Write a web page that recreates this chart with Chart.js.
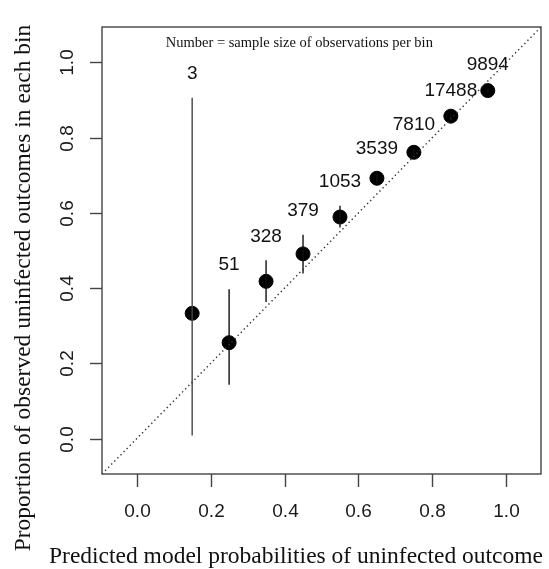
<!DOCTYPE html>
<html>
<head>
<meta charset="utf-8">
<script src="https://cdn.jsdelivr.net/npm/chart.js@4/dist/chart.umd.min.js"></script>
<style>
  body { margin: 0; background: #fff; }
  canvas { display: block; }
</style>
</head>
<body>
<canvas id="calib" width="549" height="569"></canvas>
<script>
// bin midpoints and observed proportions, with the 95% interval ends
const binMid = [0.15, 0.25, 0.35, 0.45, 0.55, 0.65, 0.75, 0.85, 0.95];
const observed = [0.333, 0.255, 0.418, 0.491, 0.589, 0.692, 0.761, 0.857, 0.925];
const lower = [0.008, 0.143, 0.363, 0.439, 0.561, 0.676, 0.751, 0.852, 0.920];
const upper = [0.906, 0.397, 0.474, 0.542, 0.619, 0.707, 0.771, 0.862, 0.930];
const sampleSize = ['3', '51', '328', '379', '1053', '3539', '7810', '17488', '9894'];

const axisRange = [-0.094, 1.094];
const tickValues = [0, 0.2, 0.4, 0.6, 0.8, 1.0];
const noteText = 'Number = sample size of observations per bin';
const notePos = [0.44, 1.05];
const xTitle = 'Predicted model probabilities of uninfected outcome';
const yTitle = 'Proportion of observed uninfected outcomes in each bin';

const sans = '"Liberation Sans", Arial, sans-serif';
const serif = '"Liberation Serif", "Times New Roman", serif';

let datasets = [];

// dotted reference line y = x
datasets.push({
    type: 'line',
    data: axisRange.map(v => ({ x: v, y: v })),
    borderColor: '#333',
    borderWidth: 1.4,
    borderDash: [1.4, 3],
    pointRadius: 0
});

// interval whiskers
for (let i = 0; i < binMid.length; i++) {
    datasets.push({
        type: 'line',
        data: [{ x: binMid[i], y: lower[i] }, { x: binMid[i], y: upper[i] }],
        borderColor: i == 0 ? '#444' : '#111',
        borderWidth: 1.4,
        pointRadius: 0
    });
}

// the points
datasets.push({
    type: 'scatter',
    data: binMid.map((v, i) => ({ x: v, y: observed[i] })),
    backgroundColor: '#000',
    borderColor: '#000',
    pointRadius: 7,
    pointHoverRadius: 7
});

const frame = {
    id: 'frame',
    afterDraw(chart) {
        const ctx = chart.ctx;
        const a = chart.chartArea;
        const x = chart.scales.x;
        const y = chart.scales.y;
        ctx.save();

        ctx.strokeStyle = '#444';
        ctx.lineWidth = 1.4;
        ctx.strokeRect(a.left, a.top, a.right - a.left, a.bottom - a.top);

        ctx.fillStyle = '#1a1a1a';
        ctx.font = '19px ' + sans;
        ctx.textAlign = 'center';
        ctx.textBaseline = 'middle';

        x.ticks.forEach(t => {
            const px = Math.round(x.getPixelForValue(t.value)) + 0.5;
            ctx.beginPath();
            ctx.moveTo(px, a.bottom);
            ctx.lineTo(px, a.bottom + 13);
            ctx.stroke();
            ctx.fillText(t.value.toFixed(1), px, a.bottom + 38);
        });

        y.ticks.forEach(t => {
            const py = Math.round(y.getPixelForValue(t.value)) + 0.5;
            ctx.beginPath();
            ctx.moveTo(a.left - 12, py);
            ctx.lineTo(a.left, py);
            ctx.stroke();
            ctx.save();
            ctx.translate(a.left - 34, py);
            ctx.rotate(-Math.PI / 2);
            ctx.fillText(t.value.toFixed(1), 0, 0);
            ctx.restore();
        });

        // sample sizes above each interval
        ctx.fillStyle = '#111';
        sampleSize.forEach((s, i) => {
            ctx.fillText(s, x.getPixelForValue(binMid[i]), y.getPixelForValue(upper[i]) - 24);
        });

        ctx.font = '14.5px ' + serif;
        ctx.fillText(noteText, x.getPixelForValue(notePos[0]), y.getPixelForValue(notePos[1]));

        ctx.font = '23.5px ' + serif;
        ctx.textBaseline = 'alphabetic';
        ctx.fillText(xTitle, 296, 563);
        ctx.save();
        ctx.translate(30, 288);
        ctx.rotate(-Math.PI / 2);
        ctx.fillText(yTitle, 0, 0);
        ctx.restore();

        ctx.restore();
    }
};

const setTicks = scale => { scale.ticks = tickValues.map(v => ({ value: v })); };

new Chart(document.getElementById('calib').getContext('2d'), {
    type: 'scatter',
    data: { datasets: datasets },
    options: {
        responsive: false,
        animation: false,
        layout: { padding: { left: 102, top: 27, right: 3, bottom: 95 } },
        plugins: { legend: { display: false }, tooltip: { enabled: false } },
        scales: {
            x: { type: 'linear', min: axisRange[0], max: axisRange[1], display: false, afterBuildTicks: setTicks },
            y: { type: 'linear', min: axisRange[0], max: axisRange[1], display: false, afterBuildTicks: setTicks }
        }
    },
    plugins: [frame]
});
</script>
</body>
</html>
